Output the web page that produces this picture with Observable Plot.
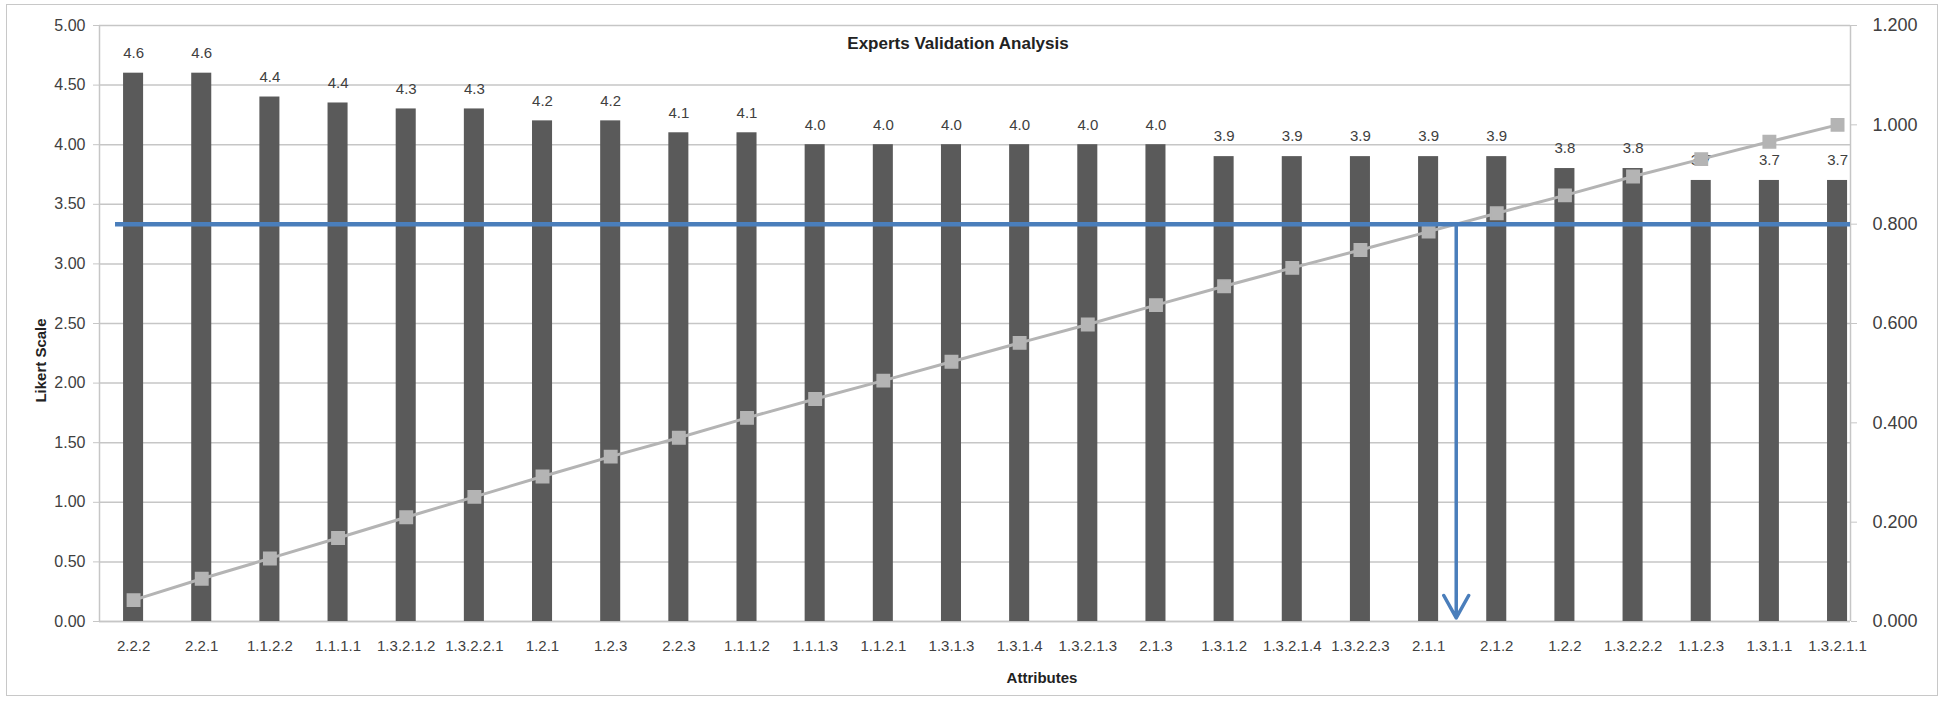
<!DOCTYPE html>
<html><head><meta charset="utf-8">
<script src="https://cdn.jsdelivr.net/npm/d3@7"></script>
<script src="https://cdn.jsdelivr.net/npm/@observablehq/plot@0.6"></script>
<style>
body{margin:0;background:#fff;}
#wrap{position:relative;width:1945px;height:701px;}
#frame{position:absolute;left:6px;top:4px;width:1932px;height:692px;border:1.5px solid #c8c8c8;box-sizing:border-box;pointer-events:none}
svg{display:block}
</style></head><body><div id="wrap"><div id="frame"></div></div>
<script>
const title = "Experts Validation Analysis";
const yLabel = "Likert Scale";
const xLabel = "Attributes";
const attributes = ["2.2.2","2.2.1","1.1.2.2","1.1.1.1","1.3.2.1.2","1.3.2.2.1","1.2.1","1.2.3","2.2.3","1.1.1.2","1.1.1.3","1.1.2.1","1.3.1.3","1.3.1.4","1.3.2.1.3","2.1.3","1.3.1.2","1.3.2.1.4","1.3.2.2.3","2.1.1","2.1.2","1.2.2","1.3.2.2.2","1.1.2.3","1.3.1.1","1.3.2.1.1"];
const likert = [4.6,4.6,4.4,4.35,4.3,4.3,4.2,4.2,4.1,4.1,4.0,4.0,4.0,4.0,4.0,4.0,3.9,3.9,3.9,3.9,3.9,3.8,3.8,3.7,3.7,3.7];
const valueLabels = ["4.6","4.6","4.4","4.4","4.3","4.3","4.2","4.2","4.1","4.1","4.0","4.0","4.0","4.0","4.0","4.0","3.9","3.9","3.9","3.9","3.9","3.8","3.8","3.7","3.7","3.7"];
const cumulative = [0.043,0.086,0.127,0.168,0.210,0.251,0.292,0.332,0.370,0.410,0.448,0.485,0.523,0.561,0.598,0.637,0.675,0.712,0.748,0.785,0.822,0.858,0.896,0.931,0.966,1.000];
const leftTicks = [0,0.5,1,1.5,2,2.5,3,3.5,4,4.5,5];
const rightTicks = [0,0.2,0.4,0.6,0.8,1.0,1.2];
const threshold = 0.8;

const leftMax = 5, rightMax = 1.2;
const toLeft = v => v * leftMax / rightMax;
const rows = attributes.map((a, i) => ({i, a, v: likert[i], lab: valueLabels[i], c: cumulative[i]}));

// crossing of the cumulative line with the threshold
let cross = 0;
for (let k = 0; k < cumulative.length - 1; k++) {
  if (cumulative[k] < threshold && cumulative[k + 1] >= threshold) {
    cross = k + (threshold - cumulative[k]) / (cumulative[k + 1] - cumulative[k]);
  }
}
const n = attributes.length;
const xMin = -0.5, xMax = n - 0.81;
const halfBar = 0.147;
const font = "'Liberation Sans Narrow', 'Liberation Sans', Arial, sans-serif";
const grid = "#c6c6c6";

const chart = Plot.plot({
  width: 1945, height: 701,
  marginLeft: 99, marginRight: 95, marginTop: 25, marginBottom: 80,
  style: {fontFamily: font, background: "transparent"},
  x: {type: "linear", domain: [xMin, xMax]},
  y: {domain: [0, leftMax]},
  marks: [
    Plot.gridY(leftTicks, {stroke: grid, strokeOpacity: 1, strokeWidth: 1.5}),
    Plot.ruleX([xMin, xMax], {stroke: grid, strokeWidth: 1.5}),
    Plot.ruleY([0], {stroke: grid, strokeWidth: 1.5}),
    Plot.rectY(rows, {x1: d => d.i - halfBar, x2: d => d.i + halfBar, y: "v", fill: "#5a5a5a"}),
    Plot.text(rows, {x: "i", y: "v", text: "lab", dy: -20, fontSize: 15, fill: "#404040"}),
    Plot.line(rows, {x: "i", y: d => toLeft(d.c), stroke: "#b4b4b4", strokeWidth: 3}),
    Plot.dot(rows, {x: "i", y: d => toLeft(d.c), symbol: "square", r: 7, fill: "#b4b4b4", stroke: "#b4b4b4"}),
    Plot.ruleY([toLeft(threshold)], {x1: -0.265, x2: xMax, stroke: "#4a7ebb", strokeWidth: 4.5}),
    Plot.arrow([{x: cross}], {x1: "x", x2: "x", y1: toLeft(threshold), y2: 0.03, stroke: "#4a7ebb", strokeWidth: 3.5, headLength: 11, headAngle: 58}),
    Plot.axisY({ticks: leftTicks, tickFormat: d => d.toFixed(2), anchor: "left", tickSize: 6, tickPadding: 8, fontSize: 16, stroke: grid, fill: "#404040", label: null}),
    Plot.axisY(rightTicks.map(toLeft), {anchor: "right", tickFormat: d => (d * rightMax / leftMax).toFixed(3), tickSize: 6, tickPadding: 16, fontSize: 18, stroke: grid, fill: "#404040", label: null}),
    Plot.axisX(d3.range(n), {tickFormat: i => attributes[i], tickSize: 0, tickPadding: 19, fontSize: 15, fill: "#404040", label: null}),
    Plot.text([title], {frameAnchor: "top", lineAnchor: "middle", dx: -17, dy: 18, fontSize: 17, fontWeight: "bold", fill: "#222"}),
    Plot.text([yLabel], {frameAnchor: "left", textAnchor: "middle", lineAnchor: "middle", rotate: -90, dx: -58, dy: 37, fontSize: 15, fontWeight: "bold", fill: "#222"}),
    Plot.text([xLabel], {frameAnchor: "bottom", lineAnchor: "middle", dx: 67, dy: 57, fontSize: 15, fontWeight: "bold", fill: "#222"})
  ]
});
chart.style.position = "absolute";
chart.style.left = "0px";
chart.style.top = "0px";
document.getElementById("wrap").appendChild(chart);
</script>
</body></html>
